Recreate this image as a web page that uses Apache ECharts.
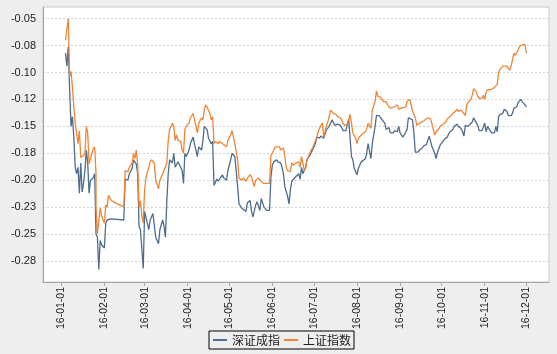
<!DOCTYPE html>
<html>
<head>
<meta charset="utf-8">
<script src="https://cdn.jsdelivr.net/npm/echarts@6/dist/echarts.min.js"></script>
<style>
html,body{margin:0;padding:0;background:#eeeeee;}
#chart{width:557px;height:354px;}
</style>
</head>
<body>
<div id="chart"></div>
<script>
const seriesNames = ['深证成指', '上证指数'];

const szData = [
['2016-01-04',-0.082],['2016-01-05',-0.094],['2016-01-06',-0.076],['2016-01-07',-0.116],['2016-01-08',-0.150],
['2016-01-09',-0.141],['2016-01-10',-0.160],['2016-01-11',-0.188],['2016-01-12',-0.194],['2016-01-13',-0.188],
['2016-01-14',-0.212],['2016-01-15',-0.184],['2016-01-16',-0.211],['2016-01-17',-0.203],['2016-01-18',-0.191],
['2016-01-19',-0.172],['2016-01-20',-0.184],['2016-01-21',-0.212],['2016-01-22',-0.200],['2016-01-24',-0.198],
['2016-01-25',-0.194],['2016-01-26',-0.250],['2016-01-27',-0.253],['2016-01-28',-0.283],['2016-01-29',-0.256],
['2016-01-30',-0.260],['2016-02-01',-0.263],['2016-02-02',-0.240],['2016-02-03',-0.237],['2016-02-04',-0.236],
['2016-02-06',-0.236],['2016-02-15',-0.237],['2016-02-16',-0.199],['2016-02-18',-0.200],['2016-02-19',-0.194],
['2016-02-21',-0.189],['2016-02-22',-0.181],['2016-02-24',-0.185],['2016-02-25',-0.194],['2016-02-26',-0.243],
['2016-02-27',-0.246],['2016-02-28',-0.245],['2016-02-29',-0.282],['2016-03-01',-0.229],['2016-03-02',-0.229],
['2016-03-04',-0.246],['2016-03-05',-0.237],['2016-03-07',-0.231],['2016-03-09',-0.253],['2016-03-11',-0.259],
['2016-03-12',-0.246],['2016-03-14',-0.237],['2016-03-15',-0.243],['2016-03-16',-0.253],['2016-03-17',-0.219],
['2016-03-18',-0.194],['2016-03-19',-0.181],['2016-03-21',-0.184],['2016-03-22',-0.175],['2016-03-23',-0.188],
['2016-03-25',-0.183],['2016-03-27',-0.188],['2016-03-28',-0.191],['2016-03-29',-0.203],['2016-03-30',-0.175],
['2016-03-31',-0.178],['2016-04-02',-0.172],['2016-04-03',-0.166],['2016-04-05',-0.160],['2016-04-06',-0.167],
['2016-04-08',-0.178],['2016-04-09',-0.169],['2016-04-11',-0.172],['2016-04-12',-0.163],['2016-04-13',-0.150],
['2016-04-15',-0.153],['2016-04-16',-0.161],['2016-04-18',-0.166],['2016-04-19',-0.164],['2016-04-20',-0.205],
['2016-04-22',-0.199],['2016-04-23',-0.201],['2016-04-24',-0.200],['2016-04-26',-0.195],['2016-04-27',-0.198],
['2016-04-29',-0.200],['2016-04-30',-0.191],['2016-05-02',-0.181],['2016-05-03',-0.175],['2016-05-04',-0.174],
['2016-05-05',-0.178],['2016-05-07',-0.206],['2016-05-08',-0.222],['2016-05-10',-0.226],['2016-05-11',-0.226],
['2016-05-13',-0.229],['2016-05-14',-0.221],['2016-05-16',-0.219],['2016-05-17',-0.229],['2016-05-18',-0.234],
['2016-05-20',-0.223],['2016-05-21',-0.220],['2016-05-23',-0.228],['2016-05-24',-0.217],['2016-05-26',-0.225],
['2016-05-27',-0.225],['2016-05-28',-0.228],['2016-05-30',-0.228],['2016-05-31',-0.197],['2016-06-01',-0.186],
['2016-06-02',-0.183],['2016-06-04',-0.181],['2016-06-05',-0.183],['2016-06-07',-0.184],['2016-06-08',-0.188],
['2016-06-09',-0.194],['2016-06-10',-0.206],['2016-06-12',-0.215],['2016-06-13',-0.222],['2016-06-14',-0.209],
['2016-06-15',-0.201],['2016-06-17',-0.198],['2016-06-18',-0.197],['2016-06-20',-0.194],['2016-06-21',-0.199],
['2016-06-22',-0.188],['2016-06-23',-0.194],['2016-06-24',-0.191],['2016-06-25',-0.188],['2016-06-26',-0.181],
['2016-06-28',-0.177],['2016-06-29',-0.174],['2016-06-30',-0.172],['2016-07-02',-0.166],['2016-07-03',-0.160],
['2016-07-05',-0.161],['2016-07-06',-0.159],['2016-07-08',-0.161],['2016-07-09',-0.161],['2016-07-10',-0.153],
['2016-07-11',-0.152],['2016-07-12',-0.150],['2016-07-14',-0.144],['2016-07-15',-0.144],['2016-07-16',-0.149],
['2016-07-18',-0.148],['2016-07-20',-0.149],['2016-07-21',-0.150],['2016-07-22',-0.154],['2016-07-24',-0.154],
['2016-07-25',-0.154],['2016-07-26',-0.143],['2016-07-27',-0.144],['2016-07-28',-0.178],['2016-07-29',-0.181],
['2016-07-30',-0.189],['2016-08-01',-0.195],['2016-08-02',-0.189],['2016-08-04',-0.183],['2016-08-05',-0.184],
['2016-08-07',-0.180],['2016-08-08',-0.175],['2016-08-09',-0.166],['2016-08-11',-0.180],['2016-08-12',-0.166],
['2016-08-14',-0.150],['2016-08-15',-0.140],['2016-08-17',-0.140],['2016-08-18',-0.142],['2016-08-19',-0.142],
['2016-08-21',-0.147],['2016-08-22',-0.153],['2016-08-24',-0.151],['2016-08-25',-0.156],['2016-08-27',-0.156],
['2016-08-28',-0.154],['2016-08-30',-0.155],['2016-08-31',-0.150],['2016-09-01',-0.156],['2016-09-03',-0.160],
['2016-09-04',-0.158],['2016-09-06',-0.153],['2016-09-07',-0.142],['2016-09-08',-0.142],['2016-09-10',-0.144],
['2016-09-11',-0.156],['2016-09-12',-0.174],['2016-09-14',-0.174],['2016-09-15',-0.172],['2016-09-17',-0.170],
['2016-09-18',-0.168],['2016-09-20',-0.167],['2016-09-21',-0.166],['2016-09-22',-0.159],['2016-09-23',-0.164],
['2016-09-24',-0.169],['2016-09-26',-0.175],['2016-09-27',-0.180],['2016-09-28',-0.174],['2016-09-29',-0.174],
['2016-09-30',-0.167],['2016-10-02',-0.164],['2016-10-03',-0.162],['2016-10-05',-0.160],['2016-10-06',-0.157],
['2016-10-07',-0.155],['2016-10-09',-0.153],['2016-10-10',-0.150],['2016-10-12',-0.148],['2016-10-13',-0.150],
['2016-10-15',-0.152],['2016-10-16',-0.155],['2016-10-17',-0.159],['2016-10-18',-0.149],['2016-10-20',-0.150],
['2016-10-21',-0.149],['2016-10-23',-0.146],['2016-10-24',-0.142],['2016-10-26',-0.147],['2016-10-27',-0.149],
['2016-10-28',-0.154],['2016-10-30',-0.154],['2016-10-31',-0.155],['2016-11-01',-0.147],['2016-11-02',-0.155],
['2016-11-03',-0.150],['2016-11-05',-0.154],['2016-11-06',-0.156],['2016-11-08',-0.156],['2016-11-09',-0.150],
['2016-11-10',-0.155],['2016-11-11',-0.141],['2016-11-12',-0.139],['2016-11-14',-0.138],['2016-11-15',-0.134],
['2016-11-17',-0.136],['2016-11-18',-0.140],['2016-11-20',-0.140],['2016-11-21',-0.138],['2016-11-22',-0.133],
['2016-11-24',-0.132],['2016-11-25',-0.128],['2016-11-27',-0.125],['2016-11-28',-0.127],['2016-11-30',-0.130],
['2016-12-01',-0.132]
];

const shData = [
['2016-01-04',-0.070],['2016-01-05',-0.071],['2016-01-06',-0.050],['2016-01-07',-0.104],['2016-01-08',-0.099],
['2016-01-09',-0.114],['2016-01-10',-0.132],['2016-01-11',-0.147],['2016-01-12',-0.146],['2016-01-13',-0.166],
['2016-01-14',-0.154],['2016-01-15',-0.179],['2016-01-17',-0.177],['2016-01-18',-0.175],['2016-01-19',-0.150],
['2016-01-20',-0.156],['2016-01-21',-0.185],['2016-01-23',-0.175],['2016-01-24',-0.171],['2016-01-25',-0.169],
['2016-01-26',-0.194],['2016-01-26',-0.225],['2016-01-27',-0.250],['2016-01-29',-0.226],['2016-01-30',-0.233],
['2016-02-01',-0.240],['2016-02-02',-0.223],['2016-02-03',-0.225],['2016-02-04',-0.214],['2016-02-06',-0.219],
['2016-02-15',-0.225],['2016-02-16',-0.191],['2016-02-18',-0.192],['2016-02-19',-0.188],['2016-02-21',-0.184],
['2016-02-22',-0.175],['2016-02-23',-0.180],['2016-02-24',-0.172],['2016-02-25',-0.185],['2016-02-26',-0.225],
['2016-02-27',-0.219],['2016-02-28',-0.233],['2016-02-29',-0.240],['2016-03-01',-0.209],['2016-03-02',-0.197],
['2016-03-04',-0.188],['2016-03-05',-0.183],['2016-03-06',-0.181],['2016-03-08',-0.184],['2016-03-09',-0.200],
['2016-03-11',-0.208],['2016-03-12',-0.200],['2016-03-14',-0.194],['2016-03-15',-0.191],['2016-03-17',-0.184],
['2016-03-18',-0.163],['2016-03-19',-0.153],['2016-03-21',-0.147],['2016-03-22',-0.150],['2016-03-23',-0.163],
['2016-03-24',-0.158],['2016-03-25',-0.163],['2016-03-27',-0.164],['2016-03-28',-0.172],['2016-03-29',-0.175],
['2016-03-30',-0.153],['2016-03-31',-0.150],['2016-04-02',-0.147],['2016-04-03',-0.142],['2016-04-05',-0.138],
['2016-04-06',-0.144],['2016-04-08',-0.156],['2016-04-09',-0.147],['2016-04-11',-0.142],['2016-04-12',-0.144],
['2016-04-13',-0.135],['2016-04-14',-0.130],['2016-04-15',-0.132],['2016-04-17',-0.138],['2016-04-18',-0.144],
['2016-04-19',-0.141],['2016-04-20',-0.166],['2016-04-21',-0.164],['2016-04-23',-0.166],['2016-04-24',-0.164],
['2016-04-26',-0.166],['2016-04-27',-0.167],['2016-04-29',-0.169],['2016-04-30',-0.163],['2016-05-02',-0.158],
['2016-05-03',-0.154],['2016-05-04',-0.153],['2016-05-05',-0.166],['2016-05-07',-0.181],['2016-05-08',-0.198],
['2016-05-10',-0.200],['2016-05-11',-0.198],['2016-05-13',-0.201],['2016-05-14',-0.198],['2016-05-16',-0.195],
['2016-05-17',-0.197],['2016-05-19',-0.206],['2016-05-20',-0.200],['2016-05-22',-0.198],['2016-05-23',-0.197],
['2016-05-24',-0.201],['2016-05-26',-0.203],['2016-05-28',-0.203],['2016-05-29',-0.202],['2016-05-30',-0.203],
['2016-05-31',-0.177],['2016-06-01',-0.175],['2016-06-03',-0.169],['2016-06-04',-0.170],['2016-06-06',-0.169],
['2016-06-07',-0.172],['2016-06-09',-0.170],['2016-06-10',-0.178],['2016-06-11',-0.188],['2016-06-12',-0.191],
['2016-06-14',-0.192],['2016-06-15',-0.184],['2016-06-16',-0.186],['2016-06-18',-0.184],['2016-06-19',-0.184],
['2016-06-20',-0.183],['2016-06-21',-0.188],['2016-06-22',-0.178],['2016-06-23',-0.184],['2016-06-24',-0.191],
['2016-06-25',-0.188],['2016-06-26',-0.181],['2016-06-28',-0.175],['2016-06-29',-0.172],['2016-06-30',-0.170],
['2016-07-01',-0.169],['2016-07-03',-0.160],['2016-07-04',-0.155],['2016-07-06',-0.149],['2016-07-07',-0.147],
['2016-07-08',-0.160],['2016-07-10',-0.149],['2016-07-11',-0.146],['2016-07-13',-0.135],['2016-07-14',-0.135],
['2016-07-15',-0.138],['2016-07-17',-0.139],['2016-07-18',-0.141],['2016-07-20',-0.142],['2016-07-21',-0.144],
['2016-07-22',-0.147],['2016-07-23',-0.149],['2016-07-25',-0.148],['2016-07-26',-0.147],['2016-07-27',-0.139],
['2016-07-28',-0.147],['2016-07-29',-0.156],['2016-07-31',-0.161],['2016-08-01',-0.166],['2016-08-02',-0.161],
['2016-08-04',-0.158],['2016-08-05',-0.159],['2016-08-07',-0.155],['2016-08-08',-0.152],['2016-08-09',-0.147],
['2016-08-11',-0.152],['2016-08-12',-0.135],['2016-08-14',-0.127],['2016-08-15',-0.117],['2016-08-16',-0.122],
['2016-08-18',-0.123],['2016-08-19',-0.124],['2016-08-20',-0.127],['2016-08-22',-0.127],['2016-08-23',-0.130],
['2016-08-25',-0.133],['2016-08-26',-0.132],['2016-08-28',-0.132],['2016-08-29',-0.133],['2016-08-30',-0.130],
['2016-08-31',-0.134],['2016-09-02',-0.133],['2016-09-03',-0.132],['2016-09-05',-0.132],['2016-09-06',-0.127],
['2016-09-08',-0.125],['2016-09-09',-0.130],['2016-09-10',-0.136],['2016-09-12',-0.142],['2016-09-13',-0.149],
['2016-09-15',-0.147],['2016-09-16',-0.146],['2016-09-18',-0.145],['2016-09-19',-0.144],['2016-09-21',-0.142],
['2016-09-22',-0.141],['2016-09-23',-0.143],['2016-09-24',-0.148],['2016-09-25',-0.153],['2016-09-26',-0.158],
['2016-09-27',-0.155],['2016-09-28',-0.156],['2016-09-29',-0.152],['2016-09-30',-0.150],['2016-10-02',-0.148],
['2016-10-04',-0.146],['2016-10-05',-0.143],['2016-10-06',-0.142],['2016-10-08',-0.140],['2016-10-09',-0.138],
['2016-10-11',-0.136],['2016-10-12',-0.134],['2016-10-13',-0.136],['2016-10-15',-0.135],['2016-10-16',-0.136],
['2016-10-17',-0.138],['2016-10-18',-0.140],['2016-10-19',-0.130],['2016-10-20',-0.128],['2016-10-22',-0.125],
['2016-10-23',-0.121],['2016-10-24',-0.115],['2016-10-26',-0.118],['2016-10-27',-0.122],['2016-10-28',-0.124],
['2016-10-30',-0.124],['2016-10-31',-0.121],['2016-11-01',-0.125],['2016-11-02',-0.118],['2016-11-03',-0.116],
['2016-11-05',-0.116],['2016-11-06',-0.115],['2016-11-08',-0.114],['2016-11-09',-0.115],['2016-11-10',-0.111],
['2016-11-11',-0.100],['2016-11-12',-0.097],['2016-11-14',-0.094],['2016-11-15',-0.094],['2016-11-17',-0.094],
['2016-11-18',-0.093],['2016-11-19',-0.098],['2016-11-20',-0.094],['2016-11-21',-0.088],['2016-11-22',-0.082],
['2016-11-23',-0.084],['2016-11-25',-0.079],['2016-11-26',-0.076],['2016-11-28',-0.074],['2016-11-29',-0.073],
['2016-11-30',-0.074],['2016-12-01',-0.082]
];

const yTickValues = [-0.05, -0.075, -0.10, -0.125, -0.15, -0.175, -0.20, -0.225, -0.25, -0.275];
const yTickLabels = ['-0.05', '-0.08', '-0.10', '-0.12', '-0.15', '-0.18', '-0.20', '-0.23', '-0.25', '-0.28'];
const xTickDates = ['2016-01-01','2016-02-01','2016-03-01','2016-04-01','2016-05-01','2016-06-01',
                    '2016-07-01','2016-08-01','2016-09-01','2016-10-01','2016-11-01','2016-12-01'];
const xTickLabels = ['16-01-01','16-02-01','16-03-01','16-04-01','16-05-01','16-06-01',
                     '16-07-01','16-08-01','16-09-01','16-10-01','16-11-01','16-12-01'];

function toTs(s) { const p = s.split('-').map(Number); return Date.UTC(p[0], p[1] - 1, p[2]); }
const xTickTs = xTickDates.map(toTs);
const DAY = 86400000;
function prep(arr) { return arr.map(function (d) { return [toTs(d[0]), d[1]]; }); }

const chart = echarts.init(document.getElementById('chart'), null, { renderer: 'canvas' });
chart.setOption({
  backgroundColor: '#eeeeee',
  animation: false,
  grid: {
    left: 43, right: 8, top: 7, bottom: 72,
    show: true, backgroundColor: '#ffffff', borderColor: '#c9c9c9', borderWidth: 1
  },
  legend: {
    data: seriesNames,
    left: 209, top: 331,
    padding: [3, 3, 3, 4],
    itemGap: 4,
    itemWidth: 14, itemHeight: 2,
    icon: 'rect',
    borderColor: '#000', borderWidth: 1,
    textStyle: { fontFamily: 'Noto Sans CJK SC', fontSize: 12, color: '#222' }
  },
  xAxis: {
    type: 'value',
    min: toTs('2016-01-01') - 13.2 * DAY,
    max: toTs('2016-12-01') + 16.3 * DAY,
    axisLine: { show: true, onZero: false, lineStyle: { color: '#a6a6a6', width: 1 } },
    axisTick: { show: true, customValues: xTickTs, length: 4, lineStyle: { color: '#a6a6a6' } },
    splitLine: { show: false },
    axisLabel: {
      customValues: xTickTs,
      rotate: 90, margin: 5,
      fontFamily: 'Arial, Liberation Sans', fontSize: 10.5, color: '#222',
      formatter: function (v) {
        let best = 0, bd = Infinity;
        xTickTs.forEach(function (t, i) { const d = Math.abs(t - v); if (d < bd) { bd = d; best = i; } });
        return xTickLabels[best];
      }
    }
  },
  yAxis: {
    type: 'value',
    min: -0.2946, max: -0.0391,
    axisLine: { show: true, lineStyle: { color: '#a6a6a6', width: 1 } },
    axisTick: { show: false, customValues: yTickValues },
    splitLine: { show: true, lineStyle: { color: '#d2d2d2', type: [2, 2], width: 1 } },
    axisLabel: {
      customValues: yTickValues,
      margin: 7,
      fontFamily: 'Arial, Liberation Sans', fontSize: 11, color: '#222',
      formatter: function (v) {
        let best = 0, bd = Infinity;
        yTickValues.forEach(function (t, i) { const d = Math.abs(t - v); if (d < bd) { bd = d; best = i; } });
        return yTickLabels[best];
      }
    }
  },
  series: [
    {
      name: seriesNames[0], type: 'line', data: prep(szData),
      symbol: 'none', showSymbol: false,
      lineStyle: { color: '#4d6c8e', width: 1.3 }, itemStyle: { color: '#4d6c8e' }
    },
    {
      name: seriesNames[1], type: 'line', data: prep(shData),
      symbol: 'none', showSymbol: false,
      lineStyle: { color: '#ef8536', width: 1.3 }, itemStyle: { color: '#ef8536' }
    }
  ]
});
</script>
</body>
</html>
